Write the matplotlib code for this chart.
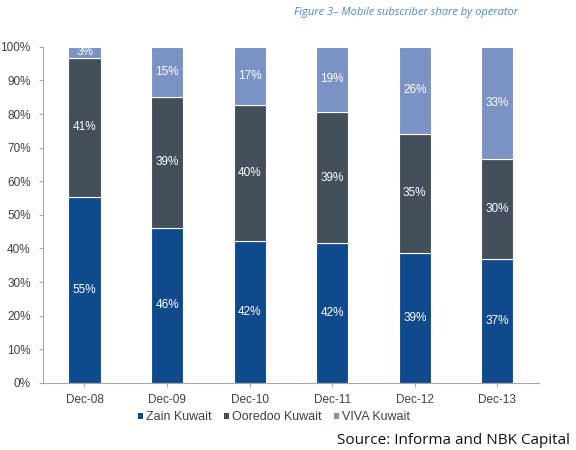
import matplotlib
matplotlib.use("Agg")
import matplotlib.pyplot as plt
from matplotlib.patches import Patch
import numpy as np

categories = ["Dec-08", "Dec-09", "Dec-10", "Dec-11", "Dec-12", "Dec-13"]
zain = [55.4, 46.1, 42.3, 41.6, 38.7, 37.0]
ooredoo = [41.4, 39.0, 40.3, 39.0, 35.4, 29.7]
viva = [3.2, 14.9, 17.4, 19.4, 25.9, 33.3]
series_names = ["Zain Kuwait", "Ooredoo Kuwait", "VIVA Kuwait"]
colors = ["#0F4A8C", "#434F5B", "#7B92C4"]

plt.rcParams['font.family'] = ['Liberation Sans', 'DejaVu Sans']

fig = plt.figure(figsize=(5.76, 4.5), dpi=100)
ax = fig.add_axes([0.075, 0.149, 0.86, 0.747])

x = np.arange(len(categories))
w = 0.39
bottom = np.zeros(len(categories))
for vals, col in zip([zain, ooredoo, viva], colors):
    vals = np.array(vals)
    ax.bar(x, vals, w, bottom=bottom, color=col, edgecolor="white", linewidth=0.8)
    for xi, b, v in zip(x, bottom, vals):
        ax.text(xi, b + v / 2, f"{round(v):d}%", ha="center", va="center",
                color="white", fontsize=8.5)
    bottom += vals

ax.set_xlim(-0.5, len(categories) - 0.5)
ax.set_ylim(0, 100)
ax.set_yticks(np.arange(0, 101, 10))
ax.set_yticklabels([f"{v}%" for v in range(0, 101, 10)])
ax.set_xticks(x)
ax.set_xticklabels(categories)
for s in ["top", "right"]:
    ax.spines[s].set_visible(False)
for s in ["left", "bottom"]:
    ax.spines[s].set_color("#A6A6A6")
    ax.spines[s].set_linewidth(0.8)
ax.tick_params(axis="both", colors="#A6A6A6", labelcolor="#404040", labelsize=8.5, length=3, width=0.8)
ax.tick_params(axis="y", pad=6)
ax.tick_params(axis="x", pad=5)

handles = [Patch(facecolor=c, edgecolor="none") for c in colors]
fig.legend(handles, series_names, loc="center", bbox_to_anchor=(0.476, 0.073), ncol=3,
           frameon=False, fontsize=9, handlelength=0.4, handleheight=0.4,
           handletextpad=0.25, columnspacing=1.0, labelcolor="#404040")

fig.text(0.9, 0.972, "Figure 3\u2013 Mobile subscriber share by operator", ha="right", va="center",
         fontsize=8, style="italic", color="#4F87C8", family=["Open Sans", "DejaVu Sans"])
fig.text(0.99, 0.022, "Source: Informa and NBK Capital", ha="right", va="center",
         fontsize=11, color="#111111", family=["Open Sans", "DejaVu Sans"])

fig.savefig("out.png", dpi=100)
